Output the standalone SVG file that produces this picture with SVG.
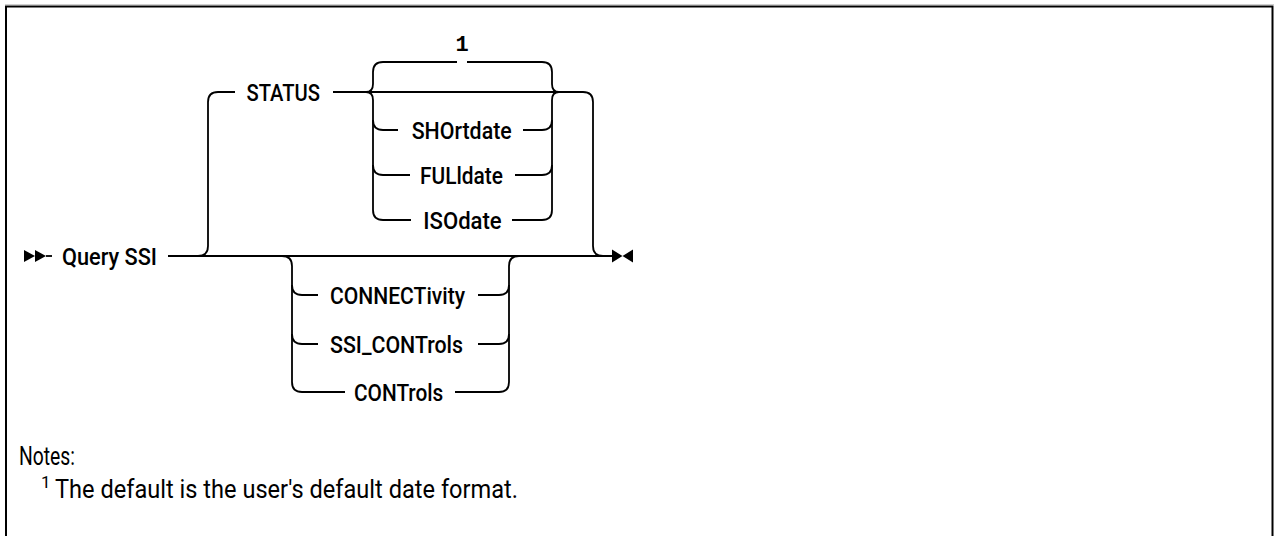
<svg xmlns="http://www.w3.org/2000/svg" width="1274" height="536" viewBox="0 0 1274 536">
<style>
.ln{fill:none;stroke:#000;stroke-width:1.8;stroke-linecap:butt;stroke-linejoin:round}
.lbl{font-family:Roboto,"Liberation Sans",sans-serif;font-weight:500;font-size:23px;fill:#000}
.note{font-family:Roboto,"Liberation Sans",sans-serif;font-weight:400;font-size:25px;fill:#000}
.sup{font-family:Roboto,"Liberation Sans",sans-serif;font-weight:400;font-size:17px;fill:#000}
.ref{font-family:"Liberation Mono","DejaVu Sans Mono",monospace;font-weight:bold;font-size:22px;fill:#000}
.mark{fill:#000;stroke:none}
</style>
<rect x="0" y="0" width="1274" height="536" fill="#fff"/>
<line x1="5" y1="4.5" x2="1274" y2="4.5" stroke="#cfcfcf" stroke-width="1"/>
<rect x="6" y="6.5" width="1266.5" height="620" fill="none" stroke="#000" stroke-width="2"/>

<g id="connectors">
  <!-- start marker -->
  <polygon class="mark" points="24,250 35,256 24,262"/>
  <polygon class="mark" points="35,250 46,256 35,262"/>
  <path class="ln" d="M46,256 L52,256"/>
  <!-- main line -->
  <path class="ln" d="M168,256 L612,256"/>
  <!-- end marker -->
  <polygon class="mark" points="612,249.5 622.5,256 612,262.5"/>
  <polygon class="mark" points="633,249.5 622.5,256 633,262.5"/>
  <!-- STATUS loop -->
  <path class="ln" d="M198,256 Q208,256 208,246 L208,102 Q208,92 218,92 L235,92"/>
  <path class="ln" d="M333,92 L583,92 Q593,92 593,102 L593,246 Q593,256 603,256"/>
  <!-- left brace of date choices -->
  <path class="ln" d="M383,62 Q373,62 373,72 L373,84 Q373,92 366,92"/>
  <path class="ln" d="M366,92 Q373,92 373,100 L373,210 Q373,220 383,220 L411,220"/>
  <path class="ln" d="M373,120 Q373,130 383,130 L398,130"/>
  <path class="ln" d="M373,165 Q373,175 383,175 L410,175"/>
  <!-- top default line -->
  <path class="ln" d="M383,62 L457,62"/>
  <path class="ln" d="M467,62 L542,62"/>
  <!-- right brace of date choices -->
  <path class="ln" d="M542,62 Q552,62 552,72 L552,84 Q552,92 559,92"/>
  <path class="ln" d="M559,92 Q552,92 552,100 L552,210 Q552,220 542,220 L512,220"/>
  <path class="ln" d="M523,130 L542,130 Q552,130 552,120"/>
  <path class="ln" d="M515,175 L542,175 Q552,175 552,165"/>
  <!-- lower choices -->
  <path class="ln" d="M282,256 Q292,256 292,266 L292,382 Q292,392 302,392 L345,392"/>
  <path class="ln" d="M292,285 Q292,295 302,295 L318,295"/>
  <path class="ln" d="M292,334 Q292,344 302,344 L318,344"/>
  <path class="ln" d="M519,256 Q509,256 509,266 L509,382 Q509,392 499,392 L455,392"/>
  <path class="ln" d="M478,295 L499,295 Q509,295 509,285"/>
  <path class="ln" d="M478,344 L499,344 Q509,344 509,334"/>
</g>

<g id="query-ssi"><text class="lbl" x="62" y="264.5" textLength="95" lengthAdjust="spacingAndGlyphs">Query SSI</text></g>
<g id="status"><text class="lbl" x="246.5" y="100.5" textLength="73.5" lengthAdjust="spacingAndGlyphs">STATUS</text></g>
<g id="note-ref-1"><text class="ref" x="462" y="51" text-anchor="middle">1</text></g>
<g id="shortdate"><text class="lbl" x="411.7" y="138.5" textLength="100" lengthAdjust="spacingAndGlyphs">SHOrtdate</text></g>
<g id="fulldate"><text class="lbl" x="420" y="183.5" textLength="83" lengthAdjust="spacingAndGlyphs">FULldate</text></g>
<g id="isodate"><text class="lbl" x="423.3" y="228.5" textLength="78.4" lengthAdjust="spacingAndGlyphs">ISOdate</text></g>
<g id="connectivity"><text class="lbl" x="330" y="303.5" textLength="135" lengthAdjust="spacingAndGlyphs">CONNECTivity</text></g>
<g id="ssi-controls"><text class="lbl" x="330" y="352.5" textLength="133" lengthAdjust="spacingAndGlyphs">SSI_CONTrols</text></g>
<g id="controls"><text class="lbl" x="354" y="400.5" textLength="89.3" lengthAdjust="spacingAndGlyphs">CONTrols</text></g>

<g id="notes">
  <text class="note" x="19" y="465" textLength="56" lengthAdjust="spacingAndGlyphs">Notes:</text>
  <text class="sup" x="41" y="488">1</text>
  <text class="note" x="55" y="498" textLength="463" lengthAdjust="spacingAndGlyphs">The default is the user's default date format.</text>
</g>
</svg>
